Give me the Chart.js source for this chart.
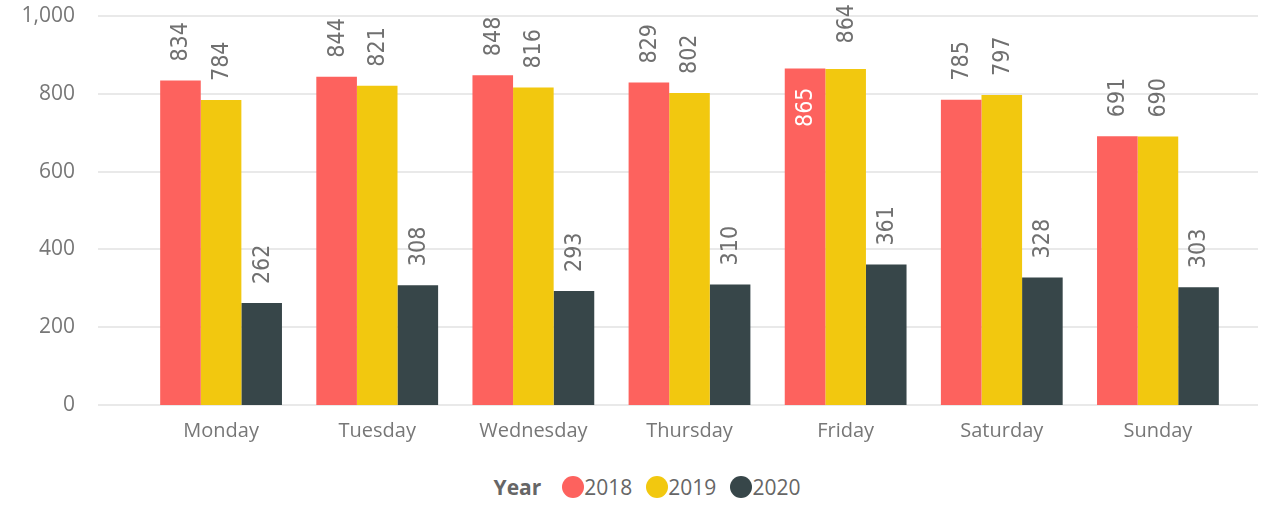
<!DOCTYPE html>
<html>
<head>
<meta charset="utf-8">
<script src="https://cdn.jsdelivr.net/npm/chart.js@4/dist/chart.umd.min.js"></script>
<style>
  html, body { margin: 0; padding: 0; background: #fff; }
  #wrap { position: relative; width: 1272px; height: 465px; }
  #legend {
    display: flex; justify-content: center; align-items: center;
    height: 44px; padding-left: 22px;
    font-family: "Open Sans", "Noto Sans", sans-serif; font-size: 21px; color: #666;
  }
  #legend b { margin-right: 21px; color: #666; }
  #legend span.item { display: flex; align-items: center; margin-right: 14px; }
  #legend span.item:last-child { margin-right: 0; }
  #legend i { display: inline-block; width: 22px; height: 22px; border-radius: 50%; margin-right: 0; }
</style>
</head>
<body>
<div id="wrap"><canvas id="myChart"></canvas></div>
<div id="legend"><b>Year</b></div>
<script>
// data
const days = ['Monday', 'Tuesday', 'Wednesday', 'Thursday', 'Friday', 'Saturday', 'Sunday'];
const years = ['2018', '2019', '2020'];
const v2018 = [834, 844, 848, 829, 865, 785, 691];
const v2019 = [784, 821, 816, 802, 864, 797, 690];
const v2020 = [262, 308, 293, 310, 361, 328, 303];
const yTicks = [0, 200, 400, 600, 800, 1000];

const colors = ['#FD625E', '#F2C80F', '#374649'];
const grey = '#777';
const font = '"Open Sans", "Noto Sans", sans-serif';

// legend
let lg = document.querySelector('#legend');
years.forEach((y, i) => {
  let s = document.createElement('span');
  s.className = 'item';
  s.innerHTML = '<i style="background:' + colors[i] + '"></i>' + y;
  lg.appendChild(s);
});

// gridlines that run past the bars, like the original
const wideGrid = {
  id: 'wideGrid',
  beforeDatasetsDraw(chart) {
    let c = chart.ctx, ys = chart.scales.y;
    c.save();
    c.strokeStyle = '#e9e9e9';
    c.lineWidth = 2;
    yTicks.forEach(t => {
      let py = Math.round(ys.getPixelForValue(t));
      c.beginPath();
      c.moveTo(98, py);
      c.lineTo(1258, py);
      c.stroke();
    });
    c.restore();
  }
};

// rotated value labels
const maxVal = Math.max(...v2018, ...v2019, ...v2020);
const valueLabels = {
  id: 'valueLabels',
  afterDatasetsDraw(chart) {
    let c = chart.ctx;
    c.save();
    c.font = '23px "DejaVu Sans Condensed", "Roboto", sans-serif';
    c.textBaseline = 'middle';
    chart.data.datasets.forEach((ds, di) => {
      chart.getDatasetMeta(di).data.forEach((bar, i) => {
        let v = ds.data[i];
        let txt = String(v);
        let w = c.measureText(txt).width;
        c.save();
        c.translate(bar.x + 1, 0);
        c.rotate(-Math.PI / 2);
        if (v === maxVal) {
          c.fillStyle = '#fff';
          c.textAlign = 'right';
          c.fillText(txt, -(bar.y + 19), 0);
        } else {
          let bottom = bar.y - 19;
          // no room above the bar: pin the label to the top edge
          if (bottom < 53) bottom = 4 + w;
          c.fillStyle = '#707070';
          c.textAlign = 'left';
          c.fillText(txt, -bottom, 0);
        }
        c.restore();
      });
    });
    c.restore();
  }
};

let ctx = document.querySelector('#myChart').getContext('2d');
let graphic = new Chart(ctx, {
  type: 'bar',
  data: {
    labels: days,
    datasets: [
      { label: years[0], data: v2018, backgroundColor: colors[0] },
      { label: years[1], data: v2019, backgroundColor: colors[1] },
      { label: years[2], data: v2020, backgroundColor: colors[2] }
    ]
  },
  options: {
    responsive: true,
    maintainAspectRatio: false,
    animation: false,
    layout: { padding: { left: 0, right: 36, top: 16, bottom: 0 } },
    categoryPercentage: 0.78,
    barPercentage: 1.0,
    plugins: {
      legend: { display: false },
      tooltip: { enabled: false }
    },
    scales: {
      x: {
        grid: { display: false },
        border: { display: false },
        ticks: { color: grey, font: { family: font, size: 20 }, padding: 6 },
        afterFit(s) { s.height = 60; }
      },
      y: {
        min: 0, max: 1000,
        afterBuildTicks(s) { s.ticks = yTicks.map(v => ({ value: v })); },
        grid: { display: false, drawTicks: false },
        border: { display: false },
        ticks: {
          color: grey, font: { family: font, size: 21 }, padding: 68,
          callback: v => v.toLocaleString('en-US')
        },
        afterFit(s) { s.width = 143; s.paddingTop = 0; s.paddingBottom = 0; }
      }
    }
  },
  plugins: [wideGrid, valueLabels]
});
</script>
</body>
</html>
